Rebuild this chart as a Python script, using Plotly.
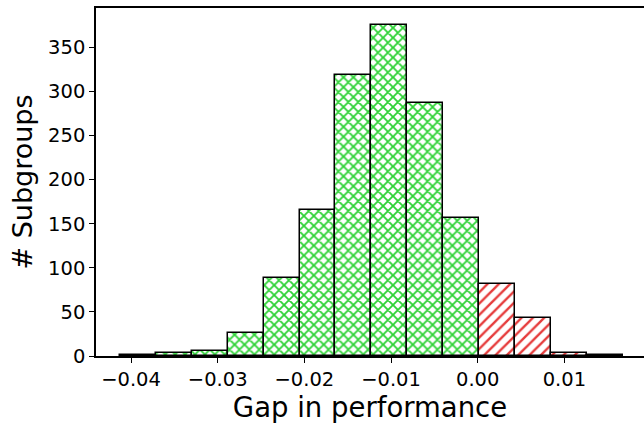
import numpy as np
import plotly.graph_objects as go

# Histogram of performance gaps across subgroups
bin_lo = -0.04127
bin_hi = 0.01673
counts = [1, 3, 6, 26, 89, 166, 319, 375, 287, 157, 82, 43, 3, 1]

edges = np.linspace(bin_lo, bin_hi, len(counts) + 1)
centers = (edges[:-1] + edges[1:]) / 2
width = edges[1] - edges[0]

neg = centers < 0
pos = ~neg

GREEN = "#2ed236"
RED = "#e63c3c"

fig = go.Figure()
fig.add_trace(go.Bar(
    x=centers[neg], y=np.array(counts)[neg], width=width,
    marker=dict(color="white",
                line=dict(color="black", width=1.5),
                pattern=dict(shape="x", fgcolor=GREEN, bgcolor="white",
                             size=7, solidity=0.45, fgopacity=1)),
    showlegend=False,
))
fig.add_trace(go.Bar(
    x=centers[pos], y=np.array(counts)[pos], width=width,
    marker=dict(color="white",
                line=dict(color="black", width=1.5),
                pattern=dict(shape="/", fgcolor=RED, bgcolor="white",
                             size=8, solidity=0.3, fgopacity=1)),
    showlegend=False,
))

font = "DejaVu Sans"
fig.update_layout(
    width=644, height=423,
    margin=dict(l=96, r=0, t=8, b=67),
    plot_bgcolor="white", paper_bgcolor="white",
    bargap=0,
    font=dict(family=font, color="black"),
)
fig.update_xaxes(
    range=[-0.04404, 0.01919],
    tickvals=[-0.04, -0.03, -0.02, -0.01, 0.0, 0.01],
    ticktext=["\u22120.04", "\u22120.03", "\u22120.02", "\u22120.01", "0.00", "0.01"],
    showline=True, linecolor="black", linewidth=1.5, mirror=True,
    ticks="outside", ticklen=5, tickwidth=1.3, tickcolor="black",
    showgrid=False, zeroline=False,
    tickfont=dict(size=19.5, family=font),
    title=dict(text="Gap in performance", font=dict(size=27.5, family=font), standoff=4),
)
fig.update_yaxes(
    range=[0, 394.6],
    tickvals=[0, 50, 100, 150, 200, 250, 300, 350],
    showline=True, linecolor="black", linewidth=1.5, mirror=False,
    ticks="outside", ticklen=5, tickwidth=1.3, tickcolor="black",
    showgrid=False, zeroline=False,
    tickfont=dict(size=19.5, family=font),
    title=dict(text="# Subgroups", font=dict(size=27, family=font), standoff=8),
)

fig.write_html("out.html")
